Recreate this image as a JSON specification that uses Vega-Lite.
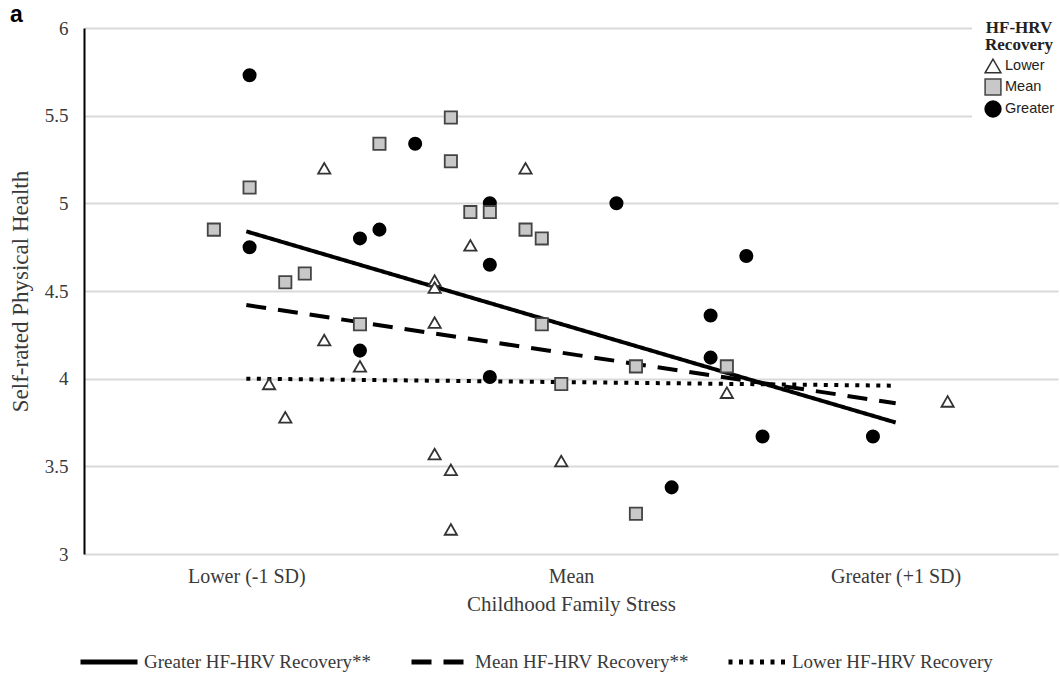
{
  "$schema": "https://vega.github.io/schema/vega-lite/v6.json",
  "width": 974,
  "height": 526,
  "autosize": {"type": "none"},
  "padding": {"left": 84, "top": 28, "right": 2, "bottom": 125},
  "background": "white",
  "title": {"text": "a", "anchor": "start", "frame": "group", "dx": -74, "dy": 19, "offset": 0, "font": "Liberation Sans", "fontSize": 23, "fontWeight": "bold", "color": "black"},
  "config": {"view": {"stroke": null}},
  "datasets": {
    "lines": [
      {"line": "Greater HF-HRV Recovery**", "stress": -1, "health": 4.84},
      {"line": "Greater HF-HRV Recovery**", "stress": 1, "health": 3.75},
      {"line": "Mean HF-HRV Recovery**", "stress": -1, "health": 4.42},
      {"line": "Mean HF-HRV Recovery**", "stress": 1, "health": 3.86},
      {"line": "Lower HF-HRV Recovery", "stress": -1, "health": 4.0},
      {"line": "Lower HF-HRV Recovery", "stress": 1, "health": 3.96}
    ],
    "points": [
      {"group": "Greater", "stress": -0.99, "health": 5.73},
      {"group": "Greater", "stress": -0.99, "health": 4.75},
      {"group": "Greater", "stress": -0.65, "health": 4.80},
      {"group": "Greater", "stress": -0.59, "health": 4.85},
      {"group": "Greater", "stress": -0.48, "health": 5.34},
      {"group": "Greater", "stress": -0.25, "health": 5.00},
      {"group": "Greater", "stress": -0.25, "health": 4.65},
      {"group": "Greater", "stress": 0.14, "health": 5.00},
      {"group": "Greater", "stress": -0.65, "health": 4.16},
      {"group": "Greater", "stress": -0.25, "health": 4.01},
      {"group": "Greater", "stress": 0.43, "health": 4.36},
      {"group": "Greater", "stress": 0.43, "health": 4.12},
      {"group": "Greater", "stress": 0.54, "health": 4.70},
      {"group": "Greater", "stress": 0.59, "health": 3.67},
      {"group": "Greater", "stress": 0.93, "health": 3.67},
      {"group": "Greater", "stress": 0.31, "health": 3.38},
      {"group": "Mean", "stress": -1.10, "health": 4.85},
      {"group": "Mean", "stress": -0.99, "health": 5.09},
      {"group": "Mean", "stress": -0.88, "health": 4.55},
      {"group": "Mean", "stress": -0.82, "health": 4.60},
      {"group": "Mean", "stress": -0.59, "health": 5.34},
      {"group": "Mean", "stress": -0.37, "health": 5.49},
      {"group": "Mean", "stress": -0.37, "health": 5.24},
      {"group": "Mean", "stress": -0.31, "health": 4.95},
      {"group": "Mean", "stress": -0.25, "health": 4.95},
      {"group": "Mean", "stress": -0.14, "health": 4.85},
      {"group": "Mean", "stress": -0.09, "health": 4.80},
      {"group": "Mean", "stress": -0.65, "health": 4.31},
      {"group": "Mean", "stress": -0.09, "health": 4.31},
      {"group": "Mean", "stress": -0.03, "health": 3.97},
      {"group": "Mean", "stress": 0.20, "health": 4.07},
      {"group": "Mean", "stress": 0.20, "health": 3.23},
      {"group": "Mean", "stress": 0.48, "health": 4.07},
      {"group": "Lower", "stress": -0.76, "health": 5.20},
      {"group": "Lower", "stress": -0.93, "health": 3.97},
      {"group": "Lower", "stress": -0.88, "health": 3.78},
      {"group": "Lower", "stress": -0.76, "health": 4.22},
      {"group": "Lower", "stress": -0.65, "health": 4.07},
      {"group": "Lower", "stress": -0.42, "health": 4.56},
      {"group": "Lower", "stress": -0.42, "health": 4.52},
      {"group": "Lower", "stress": -0.42, "health": 4.32},
      {"group": "Lower", "stress": -0.31, "health": 4.76},
      {"group": "Lower", "stress": -0.14, "health": 5.20},
      {"group": "Lower", "stress": -0.42, "health": 3.57},
      {"group": "Lower", "stress": -0.37, "health": 3.48},
      {"group": "Lower", "stress": -0.37, "health": 3.14},
      {"group": "Lower", "stress": -0.03, "health": 3.53},
      {"group": "Lower", "stress": 0.48, "health": 3.92},
      {"group": "Lower", "stress": 1.16, "health": 3.87}
    ]
  },
  "encoding": {
    "x": {
      "field": "stress", "type": "quantitative",
      "scale": {"domain": [-1.5, 1.5], "nice": false, "zero": false},
      "axis": {
        "title": "Childhood Family Stress",
        "values": [-1, 0, 1],
        "labelExpr": "datum.value < -0.5 ? 'Lower (-1 SD)' : (datum.value > 0.5 ? 'Greater (+1 SD)' : 'Mean')",
        "domain": false, "ticks": false, "grid": false,
        "labelFont": "Liberation Serif", "labelFontSize": 20, "labelColor": "#3a3a3a", "labelPadding": 12,
        "titleFont": "Liberation Serif", "titleFontSize": 21, "titleFontWeight": "normal", "titleColor": "#3a3a3a", "titlePadding": 7
      }
    },
    "y": {
      "field": "health", "type": "quantitative",
      "scale": {"domain": [3, 6], "nice": false, "zero": false},
      "axis": {
        "title": "Self-rated Physical Health",
        "values": [3, 3.5, 4, 4.5, 5, 5.5, 6],
        "labelExpr": "datum.value + ''",
        "domain": true, "domainColor": "black", "domainWidth": 2,
        "ticks": false, "grid": true, "gridColor": "#d9d9d9", "gridWidth": 2,
        "labelFont": "Liberation Serif", "labelFontSize": 19, "labelColor": "#3a3a3a", "labelPadding": 16,
        "titleFont": "Liberation Serif", "titleFontSize": 23, "titleFontWeight": "normal", "titleColor": "#3a3a3a", "titlePadding": 12
      }
    }
  },
  "layer": [
    {
      "data": {"name": "lines"},
      "mark": {"type": "line", "color": "black", "strokeWidth": 4},
      "encoding": {
        "detail": {"field": "line"},
        "strokeDash": {
          "field": "line", "type": "nominal",
          "scale": {
            "domain": ["Greater HF-HRV Recovery**", "Mean HF-HRV Recovery**", "Lower HF-HRV Recovery"],
            "range": [[1, 0], [20, 12], [4, 6.5]]
          },
          "legend": {
            "title": null, "orient": "none", "direction": "horizontal",
            "legendX": -6, "legendY": 603,
            "symbolType": "stroke", "symbolSize": 3249, "symbolStrokeWidth": 5, "symbolStrokeColor": "black",
            "labelFont": "Liberation Serif", "labelFontSize": 19, "labelColor": "#3a3a3a", "labelOffset": 4,
            "columnPadding": 29, "labelLimit": 400
          }
        }
      }
    },
    {
      "data": {"name": "points"},
      "mark": {"type": "point", "filled": true, "strokeWidth": 1.8, "opacity": 1, "size": 150},
      "encoding": {
        "shape": {
          "field": "group", "type": "nominal", "title": ["HF-HRV", "Recovery"],
          "scale": {"domain": ["Lower", "Mean", "Greater"], "range": ["triangle-up", "square", "circle"]},
          "legend": {
            "orient": "none", "legendX": 888, "legendY": -20,
            "padding": 12, "fillColor": "white",
            "titleFont": "Liberation Serif", "titleFontSize": 17, "titleFontWeight": "bold", "titleColor": "#222",
            "titleLineHeight": 17, "titleAnchor": "middle", "titleAlign": "center", "titlePadding": 3,
            "labelFont": "Liberation Sans", "labelFontSize": 14.5, "labelColor": "#222", "labelOffset": 3,
            "symbolSize": 250, "symbolStrokeWidth": 1.5, "rowPadding": 0
          }
        },
        "fill": {
          "field": "group", "type": "nominal", "title": ["HF-HRV", "Recovery"],
          "scale": {"domain": ["Lower", "Mean", "Greater"], "range": ["white", "#c8c8c8", "black"]},
          "legend": {
            "orient": "none", "legendX": 888, "legendY": -20,
            "padding": 12, "fillColor": "white",
            "titleFont": "Liberation Serif", "titleFontSize": 17, "titleFontWeight": "bold", "titleColor": "#222",
            "titleLineHeight": 17, "titleAnchor": "middle", "titleAlign": "center", "titlePadding": 3,
            "labelFont": "Liberation Sans", "labelFontSize": 14.5, "labelColor": "#222", "labelOffset": 3,
            "symbolSize": 250, "symbolStrokeWidth": 1.5, "rowPadding": 0
          }
        },
        "stroke": {
          "field": "group", "type": "nominal", "title": ["HF-HRV", "Recovery"],
          "scale": {"domain": ["Lower", "Mean", "Greater"], "range": ["#333333", "#444444", "black"]},
          "legend": {
            "orient": "none", "legendX": 888, "legendY": -20,
            "padding": 12, "fillColor": "white",
            "titleFont": "Liberation Serif", "titleFontSize": 17, "titleFontWeight": "bold", "titleColor": "#222",
            "titleLineHeight": 17, "titleAnchor": "middle", "titleAlign": "center", "titlePadding": 3,
            "labelFont": "Liberation Sans", "labelFontSize": 14.5, "labelColor": "#222", "labelOffset": 3,
            "symbolSize": 250, "symbolStrokeWidth": 1.5, "rowPadding": 0
          }
        }
      }
    }
  ]
}
